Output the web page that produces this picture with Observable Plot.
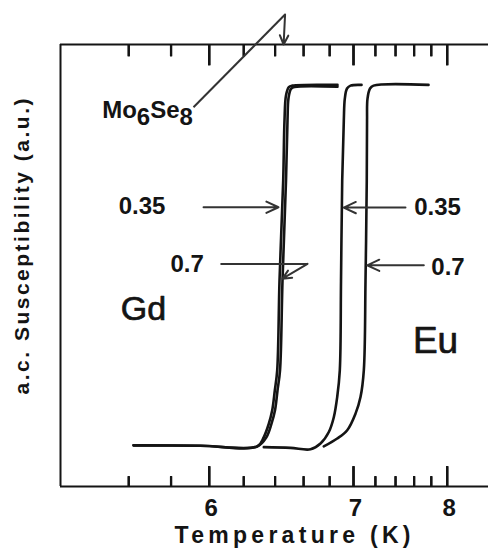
<!DOCTYPE html>
<html><head><meta charset="utf-8">
<script src="https://cdn.jsdelivr.net/npm/d3@7"></script>
<script src="https://cdn.jsdelivr.net/npm/@observablehq/plot@0.6"></script>
<style>
html,body{margin:0;padding:0;background:#fff;}
#chart svg{display:block;}
</style></head><body><div id="chart"></div>
<script>
// Axis ticks (temperature, K)
const majorTicks = [6, 7, 8];
const minorTicks = [5.6, 5.8, 6.2, 6.4, 6.6, 6.8, 7.2, 7.4, 7.6, 7.8];
const tempDomain = [5.317, 8.602];
const chiDomain = [-0.114, 1.111];

// Gd-doped, x = 0.35
const gd035T = [5.6215, 5.9525, 6.2836, 6.3258, 6.3585, 6.3809, 6.3982, 6.4143, 6.4299, 6.4551, 6.4640, 6.4744, 6.4939, 6.5200, 6.8639];
const gd035Chi = [0, -0.001, -0.003, 0.023, 0.060, 0.097, 0.152, 0.208, 0.457, 0.734, 0.900, 0.970, 0.993, 0.997, 0.999];
// Gd-doped, x = 0.7
const gd07T = [5.6215, 5.9525, 6.2836, 6.3434, 6.3762, 6.3995, 6.4163, 6.4333, 6.4503, 6.4744, 6.4848, 6.4918, 6.5094, 6.5342, 6.8639];
const gd07Chi = [0, -0.001, -0.003, 0.023, 0.060, 0.097, 0.152, 0.208, 0.457, 0.734, 0.900, 0.962, 0.988, 0.993, 0.994];
// Eu-doped, x = 0.35
const eu035T = [6.3258, 6.5059, 6.6512, 6.7277, 6.7932, 6.8335, 6.8614, 6.8829, 6.8930, 6.9030, 6.9165, 6.9250, 6.9437, 6.9738, 7.0711];
const eu035Chi = [-0.005, -0.007, -0.011, 0.005, 0.037, 0.078, 0.134, 0.208, 0.457, 0.734, 0.900, 0.961, 0.989, 0.997, 0.999];
// Eu-doped, x = 0.7
const eu07T = [6.7534, 6.8614, 6.9454, 7.0175, 7.0620, 7.0920, 7.1075, 7.1190, 7.1215, 7.1259, 7.1491, 7.1819, 7.7666];
const eu07Chi = [-0.003, 0.019, 0.042, 0.088, 0.134, 0.208, 0.457, 0.734, 0.900, 0.961, 0.989, 0.997, 0.999];

// Annotation arrows (start -> end, arrowhead at end)
const arrowT1 = [5.969, 7.505, 7.711, 6.629, 6.468];
const arrowChi1 = [0.660, 0.659, 0.499, 0.503, 1.194];
const arrowT2 = [6.423, 6.916, 7.123, 6.4503, 6.4579];
const arrowChi2 = [0.660, 0.659, 0.499, 0.462, 1.111];
// Plain leader segments (no head)
const leaderT1 = [6.063, 5.9152];
const leaderChi1 = [0.503, 0.937];
const leaderT2 = [6.629, 6.468];
const leaderChi2 = [0.503, 1.194];

// Labels
const numLabels = ["0.35", "0.7", "0.35", "0.7"];
const numLabelT = [5.6604, 5.8822, 7.8766, 8.0110];
const numLabelChi = [0.662, 0.501, 0.659, 0.494];
const dopantLabels = ["Gd", "Eu"];
const dopantT = [5.6673, 7.8518];
const dopantChi = [0.377, 0.288];
const hostLabel = ["Mo6Se8"];
const hostT = [5.4847];
const hostChi = [0.928];

const xLabel = "Temperature (K)";
const yLabel = "a.c. Susceptibility (a.u.)";

const series = [
  ["Gd 0.35", gd035T, gd035Chi],
  ["Gd 0.7", gd07T, gd07Chi],
  ["Eu 0.35", eu035T, eu035Chi],
  ["Eu 0.7", eu07T, eu07Chi]
];
const curveRows = series.flatMap(([name, T, C]) => T.map((t, i) => ({name, T: t, chi: C[i]})));
const arrowRows = arrowT1.map((t, i) => ({x1: t, y1: arrowChi1[i], x2: arrowT2[i], y2: arrowChi2[i]}));
const leaderRows = leaderT1.map((t, i) => ({x1: t, y1: leaderChi1[i], x2: leaderT2[i], y2: leaderChi2[i]}));
const numRows = numLabels.map((s, i) => ({s, T: numLabelT[i], chi: numLabelChi[i]}));
const dopRows = dopantLabels.map((s, i) => ({s, T: dopantT[i], chi: dopantChi[i], size: i === 0 ? 34 : 37}));
const hostRows = hostLabel.map((s, i) => ({s, T: hostT[i], chi: hostChi[i]}));

const ink = "#141414";
const font = "Liberation Sans, Arial, sans-serif";
const frameH = 556 - 44 - 70;
const perPx = (chiDomain[1] - chiDomain[0]) / frameH; // y units per pixel, for tick lengths
// inward ticks: short links from the frame edge, plus inset rules at the same spots
const tickMarks = (data, where, len, sw) => {
  const base = where === "bottom" ? chiDomain[0] : chiDomain[1];
  const tip = where === "bottom" ? base + len * perPx : base - len * perPx;
  return [
    Plot.link(data, {x1: d => d, x2: d => d, y1: () => base, y2: () => tip, stroke: ink, strokeWidth: sw}),
    Plot.ruleX(data, {x: d => d, ...(where === "bottom" ? {insetTop: frameH - len} : {insetBottom: frameH - len}), stroke: ink, strokeWidth: sw})
  ];
};

const chart = Plot.plot({
  width: 488,
  height: 556,
  marginLeft: 60,
  marginRight: 0,
  marginTop: 44,
  marginBottom: 70,
  style: {fontFamily: font, background: "#fff"},
  x: {type: "pow", exponent: -2, domain: tempDomain, axis: null},
  y: {domain: chiDomain, axis: null},
  marks: [
    // frame: left, top, bottom
    Plot.ruleX([tempDomain[0]], {stroke: ink, strokeWidth: 2}),
    Plot.ruleY([chiDomain[0], chiDomain[1]], {stroke: ink, strokeWidth: 2}),
    // ticks (inward)
    ...tickMarks(minorTicks, "bottom", 10, 2.2),
    ...tickMarks(majorTicks, "bottom", 20, 2.4),
    ...tickMarks(minorTicks, "top", 12, 2.2),
    ...tickMarks(majorTicks, "top", 21, 2.4),
    // curves
    Plot.line(curveRows, {x: "T", y: "chi", z: "name", curve: "catmull-rom", stroke: ink, strokeWidth: 2.6}),
    // annotations
    Plot.link(leaderRows, {x1: "x1", y1: "y1", x2: "x2", y2: "y2", stroke: "#333", strokeWidth: 2}),
    Plot.arrow(arrowRows, {x1: "x1", y1: "y1", x2: "x2", y2: "y2", stroke: "#333", strokeWidth: 2, headLength: 10, headAngle: 50}),
    Plot.text(numRows, {x: "T", y: "chi", text: "s", fontSize: 24, fontWeight: "bold", fill: ink, lineAnchor: "middle"}),
    Plot.text(dopRows, {x: "T", y: "chi", text: "s", fontSize: "size", fill: ink, stroke: ink, strokeWidth: 0.7, lineAnchor: "middle"}),
    Plot.text(hostRows, {x: "T", y: "chi", text: "s", fontSize: 24, fontWeight: "bold", fill: ink, lineAnchor: "middle", textAnchor: "start", className: "host"}),
    // tick labels
    Plot.text(majorTicks, {x: d => d, frameAnchor: "bottom", dy: 22, dx: 2, text: d => String(d), fontSize: 24, fontWeight: "bold", fill: ink, lineAnchor: "middle", textAnchor: "middle"}),
    // axis titles
    Plot.text([xLabel], {frameAnchor: "bottom", dx: 18, dy: 49, text: d => d, fontSize: 23, fontWeight: "bold", fill: ink, lineAnchor: "middle", textAnchor: "middle", className: "xlab"}),
    Plot.text([yLabel], {frameAnchor: "left", dx: -38, dy: -19, rotate: -90, text: d => d, fontSize: 21, fontWeight: "bold", fill: ink, lineAnchor: "middle", textAnchor: "middle", className: "ylab"})
  ]
});
document.getElementById("chart").appendChild(chart);

// stretch axis titles to the reference's letter-spaced widths
d3.select(chart).selectAll(".xlab text").attr("textLength", 236).attr("lengthAdjust", "spacing");
d3.select(chart).selectAll(".ylab text").attr("textLength", 296).attr("lengthAdjust", "spacing");
// chemical formula with subscripts
d3.select(chart).selectAll(".host text").each(function() {
  const t = d3.select(this);
  const s = t.text();
  const m = s.match(/^([A-Za-z]+)(\d+)([A-Za-z]+)(\d+)$/);
  if (!m) return;
  t.text(null);
  t.append("tspan").text(m[1]);
  t.append("tspan").attr("dy", 7).text(m[2]);
  t.append("tspan").attr("dy", -7).text(m[3]);
  t.append("tspan").attr("dy", 7).text(m[4]);
});
</script>
</body></html>
